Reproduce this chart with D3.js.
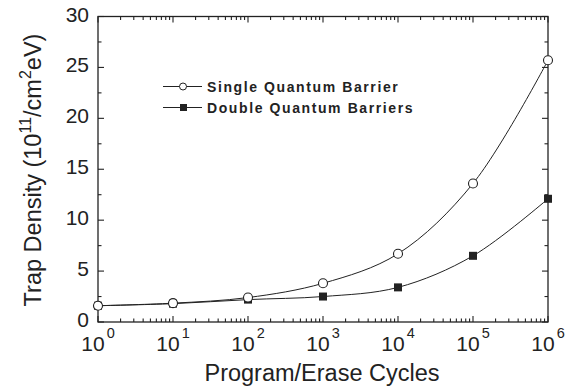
<!DOCTYPE html>
<html>
<head>
<meta charset="utf-8">
<script src="https://cdn.jsdelivr.net/npm/d3@7"></script>
<style>
  body { margin: 0; background: #fff; }
  text { font-family: "Liberation Sans", Arial, sans-serif; fill: #222; }
</style>
</head>
<body>
<svg id="chart" width="577" height="391"></svg>
<script>
const cycles = [1, 10, 100, 1000, 10000, 100000, 1000000]
const single = [1.6, 1.85, 2.4, 3.8, 6.7, 13.6, 25.7]
const double = [1.6, 1.8, 2.2, 2.5, 3.4, 6.5, 12.1]
const yTicks = [0, 5, 10, 15, 20, 25, 30]
const xTickExps = [0, 1, 2, 3, 4, 5, 6]

const svg = d3.select('#chart')
const m = { left: 98, right: 29, top: 16.5, bottom: 69 }
const W = 577 - m.left - m.right
const H = 391 - m.top - m.bottom
const g = svg.append('g').attr('transform', `translate(${m.left},${m.top})`)

const x = d3.scaleLog().domain([1, 1e6]).range([0, W])
const y = d3.scaleLinear().domain([0, 30]).range([H, 0])

// minor tick positions
const minorX = []
for (let e = 0; e < 6; e++) for (let k = 2; k <= 9; k++) minorX.push(k * Math.pow(10, e))
const minorY = d3.range(2.5, 30, 5)

const axisColor = '#222'

// frame
g.append('rect').attr('width', W).attr('height', H)
  .attr('fill', 'none').attr('stroke', axisColor).attr('stroke-width', 1.3)

// x ticks (bottom and top, inward)
const majX = xTickExps.map(e => Math.pow(10, e))
for (const [v, len] of [...majX.map(v => [v, 6]), ...minorX.map(v => [v, 3.5])]) {
  g.append('line').attr('x1', x(v)).attr('x2', x(v)).attr('y1', H).attr('y2', H - len)
    .attr('stroke', axisColor).attr('stroke-width', 1.1)
  g.append('line').attr('x1', x(v)).attr('x2', x(v)).attr('y1', 0).attr('y2', len)
    .attr('stroke', axisColor).attr('stroke-width', 1.1)
}
// y ticks (left and right, inward)
for (const [v, len] of [...yTicks.map(v => [v, 6]), ...minorY.map(v => [v, 3.5])]) {
  g.append('line').attr('x1', 0).attr('x2', len).attr('y1', y(v)).attr('y2', y(v))
    .attr('stroke', axisColor).attr('stroke-width', 1.1)
  g.append('line').attr('x1', W).attr('x2', W - len).attr('y1', y(v)).attr('y2', y(v))
    .attr('stroke', axisColor).attr('stroke-width', 1.1)
}

// y tick labels
g.selectAll('.ylab').data(yTicks).join('text')
  .attr('x', -9).attr('y', d => y(d) + 5)
  .attr('text-anchor', 'end').attr('font-size', 21)
  .text(d => d)

// x tick labels with superscript exponents
xTickExps.forEach(e => {
  const t = g.append('text').attr('x', x(Math.pow(10, e))).attr('y', H + 28.5)
    .attr('text-anchor', 'middle').attr('font-size', 21)
  t.append('tspan').text('10')
  t.append('tspan').attr('dy', -13).attr('dx', 2).attr('font-size', 14.5).text(e)
})

// axis titles
svg.append('text').attr('x', 322).attr('y', 381)
  .attr('text-anchor', 'middle').attr('font-size', 23.5)
  .text('Program/Erase Cycles')

const yt = svg.append('text')
  .attr('transform', 'translate(41,170) rotate(-90)')
  .attr('text-anchor', 'middle').attr('font-size', 23.5)
yt.append('tspan').text('Trap Density (10')
yt.append('tspan').attr('dy', -10).attr('font-size', 16).text('11')
yt.append('tspan').attr('dy', 10).text('/cm')
yt.append('tspan').attr('dy', -10).attr('font-size', 16).text('2')
yt.append('tspan').attr('dy', 10).text('eV)')

// curves
const line = d3.line().x((d, i) => x(cycles[i])).y(d => y(d)).curve(d3.curveCatmullRom.alpha(0.5))
g.append('path').datum(single).attr('d', line).attr('fill', 'none').attr('stroke', '#222').attr('stroke-width', 1)
g.append('path').datum(double).attr('d', line).attr('fill', 'none').attr('stroke', '#222').attr('stroke-width', 1)

// markers
g.selectAll('.sq').data(double).join('rect')
  .attr('x', (d, i) => x(cycles[i]) - 4).attr('y', d => y(d) - 4)
  .attr('width', 8).attr('height', 8).attr('fill', '#222')
g.selectAll('.ci').data(single).join('circle')
  .attr('cx', (d, i) => x(cycles[i])).attr('cy', d => y(d)).attr('r', 4.5)
  .attr('fill', '#fff').attr('stroke', '#222').attr('stroke-width', 1.1)

// legend
const legend = [
  { label: 'Single Quantum Barrier', y: 86.5, shape: 'circle' },
  { label: 'Double Quantum Barriers', y: 107.5, shape: 'square' }
]
legend.forEach(l => {
  svg.append('line').attr('x1', 163).attr('x2', 202).attr('y1', l.y).attr('y2', l.y)
    .attr('stroke', '#222').attr('stroke-width', 1)
  if (l.shape === 'circle') {
    svg.append('circle').attr('cx', 183).attr('cy', l.y).attr('r', 3.5)
      .attr('fill', '#fff').attr('stroke', '#222')
  } else {
    svg.append('rect').attr('x', 180).attr('y', l.y - 3.5).attr('width', 7).attr('height', 7)
      .attr('fill', '#222')
  }
  svg.append('text').attr('x', 207).attr('y', l.y + 5)
    .attr('font-size', 14).attr('font-weight', 'bold').attr('letter-spacing', 1.6).text(l.label)
})
</script>
</body>
</html>
